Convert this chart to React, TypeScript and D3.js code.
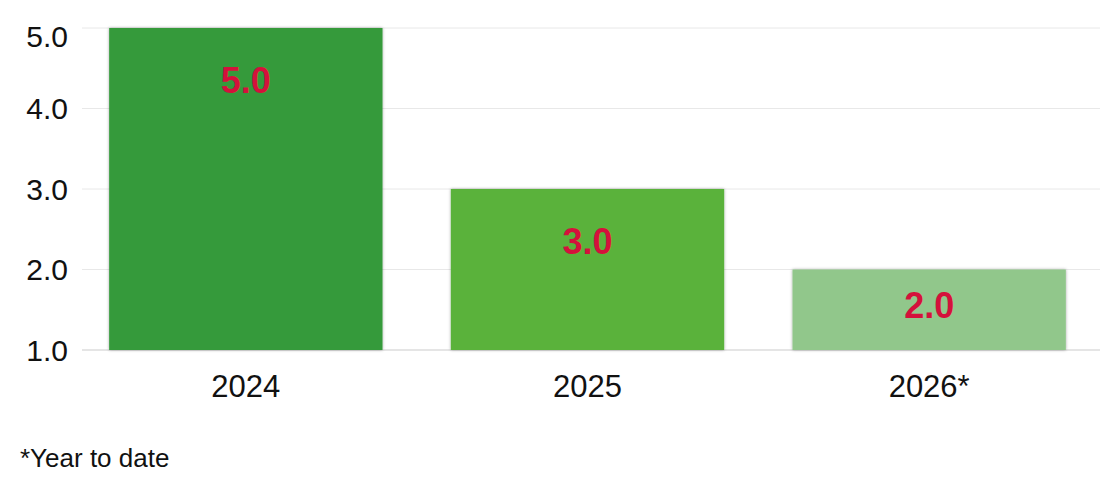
import React, { useEffect, useRef } from "react";
import * as d3 from "d3";

const categories = ["2024", "2025", "2026*"];
const values = [5.0, 3.0, 2.0];
const barColors = ["#359a3a", "#5ab23a", "#91c78b"];
const yTicks = [1.0, 2.0, 3.0, 4.0, 5.0];
const footnote = "*Year to date";

const width = 1116;
const height = 477;

const App: React.FC = () => {
  const svgRef = useRef<SVGSVGElement>(null);

  useEffect(() => {
    document.body.style.margin = "0";
    if (!svgRef.current) return;

    const font = "'Liberation Sans', Arial, Helvetica, sans-serif";
    const gridLeft = 82;
    const plotRight = 1100;

    const svg = d3.select(svgRef.current);
    svg.selectAll("*").remove();
    svg.attr("viewBox", `0 0 ${width} ${height}`).style("font-family", font);

    const x = d3
      .scaleBand<string>()
      .domain(categories)
      .range([75, plotRight])
      .paddingInner(0.2)
      .paddingOuter(0.1);

    const y = d3.scaleLinear().domain([1, 5]).range([350, 28]);

    // soft shadow on the bars
    const defs = svg.append("defs");
    const filter = defs
      .append("filter")
      .attr("id", "barShadow")
      .attr("x", "-5%")
      .attr("y", "-5%")
      .attr("width", "110%")
      .attr("height", "110%");
    filter
      .append("feDropShadow")
      .attr("dx", 0)
      .attr("dy", 0)
      .attr("stdDeviation", 1.5)
      .attr("flood-color", "#000")
      .attr("flood-opacity", 0.35);

    // gridlines
    svg
      .append("g")
      .selectAll("line")
      .data(yTicks)
      .join("line")
      .attr("x1", gridLeft)
      .attr("x2", plotRight)
      .attr("y1", (d) => y(d))
      .attr("y2", (d) => y(d))
      .attr("stroke", (d) => (d === 1 ? "#dcdcdc" : "#e8e8e8"))
      .attr("stroke-width", (d) => (d === 1 ? 1.5 : 1));

    // y tick labels
    svg
      .append("g")
      .selectAll("text")
      .data(yTicks)
      .join("text")
      .attr("x", 68)
      .attr("y", (d) => Math.max(y(d), 36))
      .attr("text-anchor", "end")
      .attr("dominant-baseline", "central")
      .attr("font-size", 30)
      .attr("fill", "#111")
      .text((d) => d.toFixed(1));

    // bars
    const bars = values.map((v, i) => ({ cat: categories[i], v, color: barColors[i] }));
    svg
      .append("g")
      .selectAll("rect")
      .data(bars)
      .join("rect")
      .attr("x", (d) => x(d.cat)!)
      .attr("y", (d) => y(d.v))
      .attr("width", x.bandwidth())
      .attr("height", (d) => y(1) - y(d.v))
      .attr("fill", (d) => d.color)
      .attr("filter", "url(#barShadow)");

    // value labels
    svg
      .append("g")
      .selectAll("text")
      .data(bars)
      .join("text")
      .attr("x", (d) => x(d.cat)! + x.bandwidth() / 2)
      .attr("y", (d) => {
        const top = y(d.v);
        const h = y(1) - top;
        return top + Math.min(52, h * 0.45);
      })
      .attr("text-anchor", "middle")
      .attr("dominant-baseline", "central")
      .attr("font-size", 36)
      .attr("font-weight", "bold")
      .attr("fill", "#d4113b")
      .text((d) => d.v.toFixed(1));

    // x axis labels
    svg
      .append("g")
      .selectAll("text")
      .data(categories)
      .join("text")
      .attr("x", (d) => x(d)! + x.bandwidth() / 2)
      .attr("y", 397)
      .attr("text-anchor", "middle")
      .attr("font-size", 31)
      .attr("fill", "#111")
      .text((d) => d);

    // footnote
    svg
      .append("text")
      .attr("x", 20)
      .attr("y", 467)
      .attr("font-size", 26)
      .attr("fill", "#111")
      .text(footnote);
  }, []);

  return <svg ref={svgRef} width={width} height={height} style={{ display: "block" }} />;
};

export default App;
